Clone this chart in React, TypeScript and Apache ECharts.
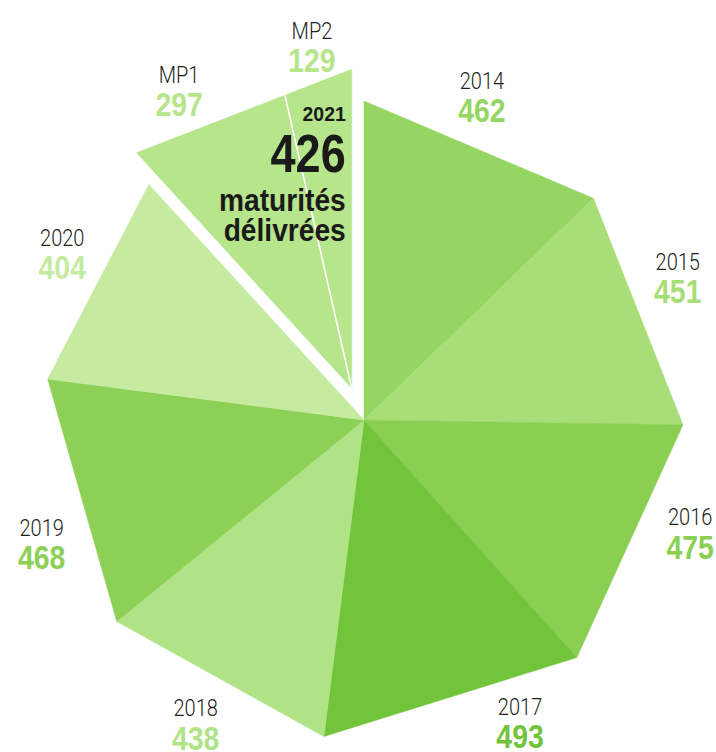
import React, { useEffect, useRef } from 'react';
import * as echarts from 'echarts';

// ---- data ----
const YEARS = ['2014', '2015', '2016', '2017', '2018', '2019', '2020'];
const YEAR_VALUES = [462, 451, 475, 493, 438, 468, 404];
const LAST_YEAR = '2021';
const MP_NAMES = ['MP1', 'MP2'];
const MP_VALUES = [297, 129];
const CENTER_CAPTION = ['maturités', 'délivrées'];

// ---- style ----
const COLORS = ['#95d561', '#a8de78', '#8acf52', '#72c43b', '#b0e386', '#8cd056', '#c6eba0', '#b6e58c'];
const LABEL_NUDGE = [3, 3, 5.5, 10, 0, 5, -1.5, 0];
const LABEL_R_ADJ = [0, 0, 0, -5, 2, 0, 0, 0];
const MP_NUDGE = [2.4, 0.2];
const CX = 364, CY = 420, R = 319, LABEL_R = 345, EXPLODE = 34;
const BOLD_FONT = '"Liberation Sans", Arimo, Arial, sans-serif';
const LIGHT_FONT = 'Roboto, "Liberation Sans", sans-serif';

const lastValue = MP_VALUES.reduce((a, b) => a + b, 0);
const names = [...YEARS, LAST_YEAR];
const values = [...YEAR_VALUES, lastValue];
const total = values.reduce((a, b) => a + b, 0);
const startAngles: number[] = [];
const endAngles: number[] = [];
{
  let c = 0;
  values.forEach((v) => {
    startAngles.push(90 - (360 * c) / total);
    c += v;
    endAngles.push(90 - (360 * c) / total);
  });
}
const rad = (d: number) => (d * Math.PI) / 180;

function labelEls(x: number, y: number, name: string, value: number, color: string) {
  return [
    {
      type: 'text', x, y: y - 15, scaleX: 0.87,
      style: { text: name, fontFamily: LIGHT_FONT, fontSize: 23, lineHeight: 23, fontWeight: 300, fill: '#231f20', align: 'center', verticalAlign: 'middle' },
    },
    {
      type: 'text', x, y: y + 15, scaleX: 0.86,
      style: { text: String(value), fontFamily: BOLD_FONT, fontSize: 33, lineHeight: 33, fontWeight: 'bold', fill: color, align: 'center', verticalAlign: 'middle' },
    },
  ];
}

export default function App() {
  const ref = useRef<HTMLDivElement>(null);
  useEffect(() => {
    if (!ref.current) return;
    const chart = echarts.init(ref.current, null, { renderer: 'svg' });
    const renderItem = (params: any) => {
      const i = params.dataIndex;
      const a0 = startAngles[i];
      const a1 = endAngles[i];
      const mid = (a0 + a1) / 2;
      const isLast = i === values.length - 1;
      const cx = CX + (isLast ? EXPLODE * Math.cos(rad(mid)) : 0);
      const cy = CY - (isLast ? EXPLODE * Math.sin(rad(mid)) : 0);
      const p0 = [cx + R * Math.cos(rad(a0)), cy - R * Math.sin(rad(a0))];
      const p1 = [cx + R * Math.cos(rad(a1)), cy - R * Math.sin(rad(a1))];
      const children: any[] = [
        {
          type: 'polygon',
          shape: { points: [[cx, cy], p0, p1] },
          style: { fill: COLORS[i], stroke: COLORS[i], lineWidth: 0.5 },
        },
      ];
      if (!isLast) {
        const la = mid + LABEL_NUDGE[i];
        const lr = LABEL_R + LABEL_R_ADJ[i];
        children.push(...labelEls(CX + lr * Math.cos(rad(la)), CY - lr * Math.sin(rad(la)), names[i], values[i], COLORS[i]));
      } else {
        const half = Math.abs(a0 - a1) / 2;
        let c = 0;
        MP_VALUES.forEach((v, k) => {
          const s = a0 - (360 * c) / total;
          c += v;
          const e = a0 - (360 * c) / total;
          if (k < MP_VALUES.length - 1) {
            const d = (R * Math.cos(rad(half))) / Math.cos(rad(e - mid));
            children.push({
              type: 'line',
              shape: { x1: cx, y1: cy, x2: cx + d * Math.cos(rad(e)), y2: cy - d * Math.sin(rad(e)) },
              style: { stroke: '#ffffff', lineWidth: 1.6 },
            });
          }
          const la = (s + e) / 2 + MP_NUDGE[k];
          children.push(...labelEls(cx + LABEL_R * Math.cos(rad(la)), cy - LABEL_R * Math.sin(rad(la)), MP_NAMES[k], v, COLORS[i]));
        });
        const tx = cx - 6;
        const ty = p1[1];
        const center = [
          { text: LAST_YEAR, size: 20, dy: 45, sx: 0.97 },
          { text: String(lastValue), size: 53, dy: 84, sx: 0.85 },
          { text: CENTER_CAPTION[0], size: 32, dy: 131, sx: 0.88 },
          { text: CENTER_CAPTION[1], size: 32, dy: 161, sx: 0.88 },
        ];
        center.forEach((t) =>
          children.push({
            type: 'text', x: tx, y: ty + t.dy, scaleX: t.sx,
            style: { text: t.text, fontFamily: BOLD_FONT, fontSize: t.size, lineHeight: t.size, fontWeight: 'bold', fill: '#1a1a1a', align: 'right', verticalAlign: 'middle' },
          })
        );
      }
      return { type: 'group', children };
    };
    chart.setOption({
      animation: false,
      backgroundColor: '#ffffff',
      series: [
        {
          type: 'custom',
          coordinateSystem: 'none',
          silent: true,
          data: values.map((v, i) => [i, v]),
          renderItem,
        },
      ],
    });
    return () => chart.dispose();
  }, []);
  return <div ref={ref} style={{ position: 'fixed', left: 0, top: 0, width: 716, height: 752 }} />;
}
